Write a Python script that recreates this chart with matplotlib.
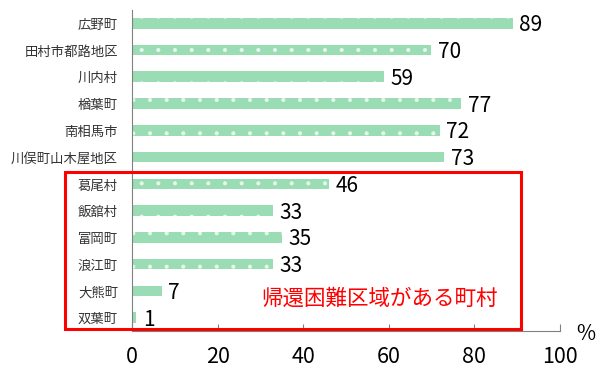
import matplotlib
matplotlib.use("Agg")
import matplotlib.pyplot as plt
from matplotlib.patches import Rectangle

plt.rcParams['font.family'] = ['Noto Sans CJK JP', 'DejaVu Sans']
plt.rcParams['hatch.linewidth'] = 0.5

towns = ['広野町', '田村市都路地区', '川内村', '楢葉町', '南相馬市', '川俣町山木屋地区',
         '葛尾村', '飯舘村', '富岡町', '浪江町', '大熊町', '双葉町']
rates = [89, 70, 59, 77, 72, 73, 46, 33, 35, 33, 7, 1]
xticks = [0, 20, 40, 60, 80, 100]

fig = plt.figure(figsize=(6, 3.69), dpi=100)
ax = fig.add_axes([0.22, 0.103, 0.713, 0.87])

ypos = list(range(len(towns)))
ax.barh(ypos, rates, height=0.4, color='#9adcb3', hatch='.', edgecolor='#e8f7ee', linewidth=0)
ax.set_ylim(len(towns) - 0.5, -0.5)
ax.set_xlim(0, 100)

for y, v in zip(ypos, rates):
    ax.text(v + 1.5, y + 0.08, str(v), va='center', ha='left', fontsize=15, color='black')

ax.set_yticks(ypos)
ax.set_yticklabels(towns, fontsize=9.6, color='#333333')
ax.set_xticks(xticks)
ax.set_xticklabels([str(t) for t in xticks], fontsize=15.5, color='black')
ax.tick_params(axis='y', length=0, pad=10)
ax.tick_params(axis='x', direction='in', length=5, color='#808080', pad=11)

for s in ['top', 'right']:
    ax.spines[s].set_visible(False)
for s in ['left', 'bottom']:
    ax.spines[s].set_color('#808080')

ax.text(1.06, -0.01, '%', transform=ax.transAxes, fontsize=15, ha='center', va='center')

# 帰還困難区域 group
box = Rectangle((65 / 600, 1 - 329 / 369), (521 - 65) / 600, (329 - 172) / 369,
                transform=fig.transFigure, fill=False, edgecolor='#ff0000', linewidth=2.2)
fig.add_artist(box)
ax.text(0.855, 10.3, '帰還困難区域がある町村', transform=ax.get_yaxis_transform(),
        fontsize=15.5, color='#ff0000', ha='right', va='center')

fig.savefig('out.png', dpi=100)
